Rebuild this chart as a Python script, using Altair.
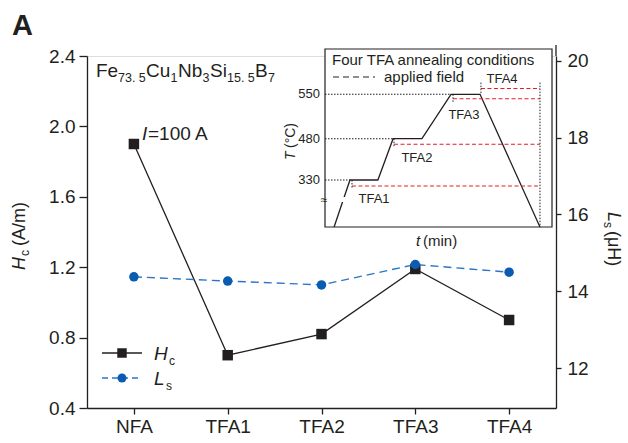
import altair as alt
import pandas as pd

# ---------------- data ----------------
categories = ["NFA", "TFA1", "TFA2", "TFA3", "TFA4"]
hc_values = [1.90, 0.70, 0.82, 1.19, 0.90]          # H_c (A/m)
ls_values = [14.38, 14.27, 14.17, 14.70, 14.50]     # L_s (uH)

hc_ticks = [0.4, 0.8, 1.2, 1.6, 2.0, 2.4]
ls_ticks = [12, 14, 16, 18, 20]

# inset: schematic annealing profile
profile_t = [4, 11, 23.3, 30, 42.7, 55.5, 68.3, 94.7]          # time (min, schematic)
profile_T = [25, 330, 330, 480, 480, 550, 550, 25]              # temperature (C)
plateau_T = [330, 480, 550]
plateau_t = [11, 30, 55.5]
field_names = ["TFA1", "TFA2", "TFA3", "TFA4"]
field_start_t = [11.9, 30.4, 56.4, 68.7]
field_T = [291, 460, 543, 559]
field_end_t = 94.7
field_top_T = 568
label_t = [21.6, 40.5, 61.2, 78.0]
label_T = [207, 410, 517, 574]

FONT = "Liberation Sans"
INK = "#231f20"
BLUE_LINE = "#2b74c8"
BLUE_PT = "#0a5cb3"
RED = "#e31e24"

df = pd.DataFrame({"cat": categories, "hc": hc_values, "ls": ls_values})
one = pd.DataFrame({"a": [0]})

# ---------------- main chart ----------------
xenc = alt.X("cat:N", sort=categories,
             scale=alt.Scale(type="point", padding=0.5),
             axis=alt.Axis(title=None, labelAngle=0, labelFontSize=19, labelFont=FONT,
                           labelColor=INK, tickSize=6, tickWidth=1.3, tickColor=INK,
                           domainColor=INK, domainWidth=1.3, labelPadding=3, grid=False))

y_hc = alt.Y("hc:Q", scale=alt.Scale(domain=[0.4, 2.4], nice=False, zero=False),
             axis=alt.Axis(title=None, values=hc_ticks, format=".1f", labelFontSize=19,
                           labelFont=FONT, labelColor=INK, tickSize=8, tickWidth=1.3,
                           tickColor=INK, domainColor=INK, domainWidth=1.3,
                           labelPadding=4, grid=False))

y_ls = alt.Y("ls:Q", scale=alt.Scale(domain=[10.97, 20.12], nice=False, zero=False),
             axis=alt.Axis(title=None, orient="right", values=ls_ticks, labelFontSize=19,
                           labelFont=FONT, labelColor=INK, tickSize=5, tickWidth=1.3,
                           tickColor=INK, domainColor=INK, domainWidth=1.3,
                           labelPadding=6, grid=False))

base = alt.Chart(df)
hc_layer = alt.layer(
    base.mark_line(color=INK, strokeWidth=1.3).encode(x=xenc, y=y_hc),
    base.mark_point(shape="square", filled=True, size=110, color=INK, opacity=1).encode(x=xenc, y=y_hc),
)
ls_layer = alt.layer(
    base.mark_line(color=BLUE_LINE, strokeWidth=1.4, strokeDash=[8, 5]).encode(x=xenc, y=y_ls),
    base.mark_point(shape="circle", filled=True, size=90, color=BLUE_PT, opacity=1).encode(x=xenc, y=y_ls),
)
main = alt.layer(hc_layer, ls_layer).resolve_scale(y="independent")

# ---------------- inset ----------------
ix = alt.Scale(domain=[0, 100], range=[238, 465], nice=False, zero=False)
iy = alt.Scale(domain=[25, 330, 480, 550, 620], range=[171, 124, 82.7, 38.3, -7],
               nice=False, zero=False)

prof_df = pd.DataFrame({"t": profile_t, "T": profile_T, "i": list(range(len(profile_t)))})
plat_df = pd.DataFrame({"t0": [0] * len(plateau_T), "t1": plateau_t, "T": plateau_T})
field_df = pd.DataFrame({"name": field_names, "t0": field_start_t,
                         "t1": [field_end_t] * 4, "T": field_T, "lt": label_t, "lT": label_T})
vert_df = pd.DataFrame({
    "t": field_start_t[:3] + [field_start_t[3], field_end_t],
    "Ta": plateau_T + [field_top_T, field_top_T],
    "Tb": [field_T[0] - 12, field_T[1] - 10, field_T[2] - 6, 550, 25],
})
tick_df = pd.DataFrame({"T": plateau_T, "lab": [str(v) for v in plateau_T]})


def txt(s, x, y, size=18, style="normal", weight="normal", align="left",
        baseline="alphabetic", angle=0, color=INK):
    return alt.Chart(one).mark_text(
        text=s, fontSize=size, fontStyle=style, fontWeight=weight, align=align,
        baseline=baseline, angle=angle, color=color, font=FONT
    ).encode(x=alt.value(x), y=alt.value(y))


box = alt.Chart(one).mark_rect(fill="white", stroke=INK, strokeWidth=1.2).encode(
    x=alt.value(238), x2=alt.value(465), y=alt.value(-7), y2=alt.value(171))

prof = alt.Chart(prof_df).mark_line(color=INK, strokeWidth=1.3).encode(
    x=alt.X("t:Q", scale=ix, axis=None), y=alt.Y("T:Q", scale=iy, axis=None), order="i:Q")

plat = alt.Chart(plat_df).mark_rule(color=INK, strokeWidth=1.1, strokeDash=[1.5, 1.5]).encode(
    x=alt.X("t0:Q", scale=ix, axis=None), x2="t1:Q", y=alt.Y("T:Q", scale=iy, axis=None))

field = alt.Chart(field_df).mark_rule(color=RED, strokeWidth=1.1, strokeDash=[4, 2.5]).encode(
    x=alt.X("t0:Q", scale=ix, axis=None), x2="t1:Q", y=alt.Y("T:Q", scale=iy, axis=None))

vert = alt.Chart(vert_df).mark_rule(color=INK, strokeWidth=1.0, strokeDash=[1.5, 1.5]).encode(
    x=alt.X("t:Q", scale=ix, axis=None), y=alt.Y("Ta:Q", scale=iy, axis=None), y2="Tb:Q")

flabels = alt.Chart(field_df).mark_text(fontSize=13, font=FONT, color=INK, align="center",
                                        baseline="middle").encode(
    x=alt.X("lt:Q", scale=ix, axis=None), y=alt.Y("lT:Q", scale=iy, axis=None), text="name:N")

ticklabs = alt.Chart(tick_df).mark_text(fontSize=13, font=FONT, color=INK, align="right",
                                        baseline="middle").encode(
    x=alt.value(233), y=alt.Y("T:Q", scale=iy, axis=None), text="lab:N")

gap = alt.Chart(one).mark_rect(fill="white").encode(
    x=alt.value(252), x2=alt.value(262), y=alt.value(141), y2=alt.value(146))

inset = alt.layer(box, prof, gap, plat, field, vert, flabels, ticklabs)

inset_text = [
    txt("Four TFA annealing conditions", 245, 4, size=15, baseline="middle"),
    alt.Chart(one).mark_rule(color=INK, strokeWidth=1.2, strokeDash=[6, 4]).encode(
        x=alt.value(246), x2=alt.value(288), y=alt.value(21)),
    txt("applied field", 297, 21, size=15, baseline="middle"),
    txt("≈", 237, 144, size=12, align="center", baseline="middle"),
    txt("T", 208, 104, size=14, style="italic", angle=270),
    txt("(°C)", 208, 92, size=14, angle=270),
    txt("t", 329, 185, size=15, style="italic", baseline="middle"),
    txt("(min)", 336, 185, size=15, baseline="middle"),
]

# ---------------- annotations ----------------
notes = [
    txt("A", -75, -21, size=29, weight="bold"),
    # formula Fe73.5 Cu1 Nb3 Si15.5 B7
    txt("Fe", 9, 21, size=19), txt("73. 5", 31, 26, size=12.5),
    txt("Cu", 59, 21, size=19), txt("1", 83.5, 26, size=12.5),
    txt("Nb", 91, 21, size=19), txt("3", 115.5, 26, size=12.5),
    txt("Si", 123, 21, size=19), txt("15. 5", 140, 26, size=12.5),
    txt("B", 168, 21, size=19), txt("7", 181, 26, size=12.5),
    # current
    txt("I", 55, 84, size=19, style="italic"), txt("=100 A", 61, 84, size=19),
    # left axis title
    txt("H", -62, 214, size=18, style="italic", angle=270),
    txt("c", -58, 200, size=12, angle=270),
    txt("(A/m)", -62, 190, size=18, angle=270),
    # right axis title
    txt("L", 521, 156, size=18, style="italic", angle=90),
    txt("s", 517, 166, size=12, angle=90),
    txt("(μH)", 521, 175, size=18, angle=90),
    # right axis extension
    alt.Chart(one).mark_rule(color=INK, strokeWidth=1.3).encode(
        x=alt.value(469), y=alt.value(-11), y2=alt.value(0)),
    # legend
    alt.Chart(one).mark_rule(color=INK, strokeWidth=1.3).encode(
        x=alt.value(15), x2=alt.value(55), y=alt.value(297)),
    alt.Chart(one).mark_point(shape="square", filled=True, size=90, color=INK, opacity=1).encode(
        x=alt.value(35), y=alt.value(297)),
    txt("H", 67, 304, size=19, style="italic"),
    txt("c", 82, 309, size=12),
    alt.Chart(one).mark_rule(color=BLUE_LINE, strokeWidth=1.4, strokeDash=[6, 4]).encode(
        x=alt.value(15), x2=alt.value(55), y=alt.value(322)),
    alt.Chart(one).mark_point(shape="circle", filled=True, size=80, color=BLUE_PT, opacity=1).encode(
        x=alt.value(35), y=alt.value(322)),
    txt("L", 67, 329, size=19, style="italic"),
    txt("s", 79, 334, size=12),
]

chart = alt.layer(main, inset, *inset_text, *notes).resolve_scale(
    x="independent", y="independent"
).properties(
    width=469, height=352,
    autosize=alt.AutoSizeParams(type="none"),
    padding={"left": 87, "top": 56, "right": 72, "bottom": 35},
).configure_view(stroke=None).configure(font=FONT)

chart.save("out.html", embed_options={"renderer": "svg", "actions": False})
